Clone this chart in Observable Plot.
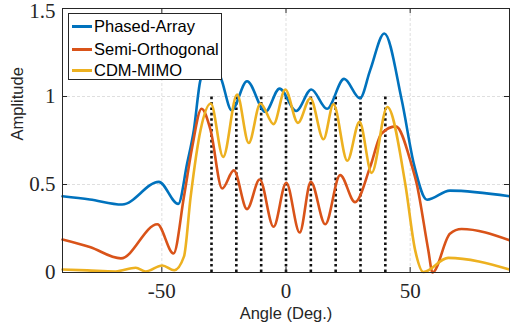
<!DOCTYPE html>
<html><head><meta charset="utf-8">
<script src="https://cdn.jsdelivr.net/npm/d3@7"></script>
<script src="https://cdn.jsdelivr.net/npm/@observablehq/plot@0.6"></script>
<style>
body{margin:0;background:#fff;}
#wrap{position:relative;width:510px;height:329px;}
#legend{position:absolute;left:68px;top:13px;width:154px;height:67px;background:#fff;border:1px solid #262626;box-sizing:border-box;font-family:"Liberation Sans",Arial,sans-serif;font-size:16.5px;color:#000;}
.row{position:absolute;left:0;height:20px;width:150px;}
.sw{position:absolute;left:3px;top:9px;width:20px;height:2.5px;}
.lb{position:absolute;left:25px;top:0;line-height:20px;white-space:nowrap;}
</style>
</head><body>
<div id="wrap"><div id="legend"></div></div>
<script>
// ---- data ----
const seriesNames = ["Phased-Array", "Semi-Orthogonal", "CDM-MIMO"];
const seriesColors = ["#0072BD", "#D95319", "#EDB120"];

const blueAngles = [-90, -79, -66, -51.2, -43.4, -39.8, -37.1, -34.5, -30, -26, -21.9, -15.7, -8.3, -2.6, 4.1, 10.2, 16.5, 23.4, 29.8, 33.9, 39.6, 46.6, 51.6, 56.8, 66, 90];
const blueValues = [0.433, 0.415, 0.386, 0.515, 0.39, 0.62, 0.81, 1.09, 1.22, 1.097, 0.922, 1.087, 0.913, 1.045, 0.918, 1.04, 0.93, 1.10, 0.99, 1.15, 1.358, 0.98, 0.61, 0.413, 0.465, 0.433];

const redAngles = [-90, -79, -66.5, -51.8, -45.3, -41.1, -37.8, -34, -30.4, -25.7, -21, -15.7, -10.6, -5, 0.1, 5.5, 10, 15.8, 21.8, 27.8, 33.9, 38.5, 44.2, 50.6, 52.6, 57.3, 59, 66, 70.7, 90];
const redValues = [0.1875, 0.145, 0.08, 0.274, 0.108, 0.43, 0.71, 0.93, 0.81, 0.477, 0.58, 0.36, 0.528, 0.26, 0.51, 0.227, 0.515, 0.274, 0.553, 0.40, 0.60, 0.79, 0.83, 0.61, 0.506, 0.127, 0.0, 0.22, 0.247, 0.183];

const yellowAngles = [-90, -80, -68.6, -60.5, -56.5, -49.8, -45, -41.1, -38.4, -34.4, -30.3, -25.3, -19.7, -15, -10.3, -5, -0.3, 4.8, 9.8, 15.1, 19.1, 24.7, 29.6, 34.5, 40.8, 48, 52, 55.3, 65.3, 90];
const yellowValues = [0.017, 0.012, 0.006, 0.027, 0.006, 0.04, 0.013, 0.09, 0.43, 0.81, 0.96, 0.657, 1.011, 0.736, 0.96, 0.843, 1.04, 0.85, 0.99, 0.757, 0.956, 0.635, 0.856, 0.566, 0.94, 0.506, 0.127, 0.003, 0.083, 0.017];

const beamAngles = [-30, -20, -10, 0, 10, 20, 30, 40];
const beamAmps = [1, 1, 1, 1, 1, 1, 1, 1];

const xTicks = [-50, 0, 50];
const yTicks = [0, 0.5, 1, 1.5];
const yTicksLow = [0, 0.5, 1];
const yTicksTop = [1.5];
const xGrid = [-50, 0, 50];
const yGrid = [0.5, 1];

// ---- build ----
const rows = (a, v) => a.map((x, i) => ({angle: x, amp: v[i]}));
const series = [rows(blueAngles, blueValues), rows(redAngles, redValues), rows(yellowAngles, yellowValues)];
const beams = rows(beamAngles, beamAmps);

const W = 510, H = 329, mL = 62, mR = 1, mT = 8, mB = 57;
const pw = W - mL - mR, ph = H - mT - mB;
const axisCol = "#262626";

const chart = Plot.plot({
  width: W, height: H,
  marginLeft: mL, marginRight: mR, marginTop: mT, marginBottom: mB,
  x: {domain: [-90, 90]},
  y: {domain: [0, 1.5]},
  style: {fontFamily: "'Liberation Serif', 'Times New Roman', serif", fontSize: "21px", color: axisCol, background: "#fff", overflow: "visible"},
  marks: [
    Plot.gridX({ticks: xGrid, stroke: axisCol, strokeOpacity: 0.15, strokeDasharray: "3,2"}),
    Plot.gridY({ticks: yGrid, stroke: axisCol, strokeOpacity: 0.15, strokeDasharray: "3,2"}),
    Plot.ruleX(beams, {x: "angle", y1: 0, y2: "amp", stroke: "#111", strokeWidth: 2.6, strokeDasharray: "2.6,2.8"}),
    ...series.map((s, i) => Plot.line(s, {x: "angle", y: "amp", stroke: seriesColors[i], strokeWidth: 2.6, curve: "monotone-x"})),
    Plot.frame({stroke: axisCol, strokeWidth: 1}),
    Plot.ruleX(xTicks, {x: d => d, insetTop: ph - 5, stroke: axisCol}),
    Plot.ruleX(xTicks, {x: d => d, insetBottom: ph - 5, stroke: axisCol}),
    Plot.ruleY(yTicks, {y: d => d, insetRight: pw - 5, stroke: axisCol}),
    Plot.ruleY(yTicks, {y: d => d, insetLeft: pw - 5, stroke: axisCol}),
    Plot.axisX({ticks: xTicks, tickSize: 0, tickPadding: 11, tickFormat: d => String(d), label: null}),
    Plot.axisY({ticks: yTicksLow, tickSize: 0, tickPadding: 7, tickFormat: d => String(d), label: null}),
    Plot.axisY({ticks: yTicksTop, tickSize: 0, tickPadding: 7, dy: 2.5, tickFormat: d => String(d), label: null}),
    Plot.text(["Angle (Deg.)"], {frameAnchor: "bottom", dy: 46, fontFamily: "'Liberation Sans', Arial, sans-serif", fontSize: 16.5, fill: axisCol}),
    Plot.text(["Amplitude"], {frameAnchor: "left", dx: -45, rotate: -90, fontFamily: "'Liberation Sans', Arial, sans-serif", fontSize: 16.5, fill: axisCol})
  ]
});
const wrap = document.getElementById("wrap");
wrap.insertBefore(chart, wrap.firstChild);

const legend = document.getElementById("legend");
const rowTops = [2, 25, 46];
seriesNames.forEach((n, i) => {
  const r = document.createElement("div");
  r.className = "row";
  r.style.top = rowTops[i] + "px";
  const sw = document.createElement("div");
  sw.className = "sw";
  sw.style.background = seriesColors[i];
  const lb = document.createElement("div");
  lb.className = "lb";
  lb.textContent = n;
  r.appendChild(sw); r.appendChild(lb);
  legend.appendChild(r);
});
</script>
</body></html>
